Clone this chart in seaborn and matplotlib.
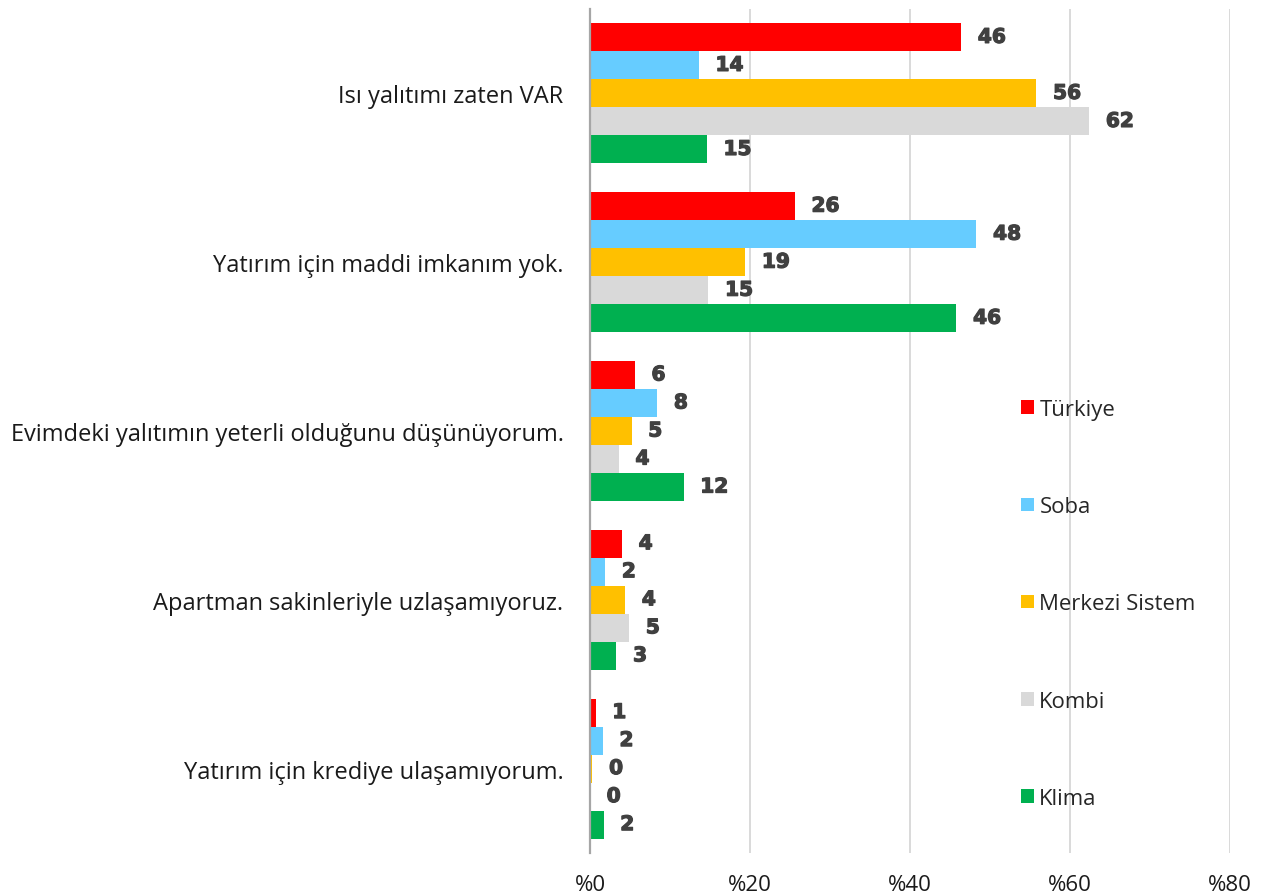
import matplotlib
matplotlib.use("Agg")
import matplotlib.pyplot as plt
import matplotlib.patheffects as pe
from matplotlib.patches import Patch
from matplotlib.ticker import FixedLocator
import seaborn as sns
import pandas as pd

# Reasons for not insulating, by heating type (%)
categories = [
    "Isı yalıtımı zaten VAR",
    "Yatırım için maddi imkanım yok.",
    "Evimdeki yalıtımın yeterli olduğunu düşünüyorum.",
    "Apartman sakinleriyle uzlaşamıyoruz.",
    "Yatırım için krediye ulaşamıyorum.",
]
series = ["Türkiye", "Soba", "Merkezi Sistem", "Kombi", "Klima"]
turkiye = [46.4, 25.6, 5.6, 4.0, 0.7]
soba = [13.6, 48.3, 8.4, 1.9, 1.6]
merkezi = [55.8, 19.4, 5.2, 4.4, 0.3]
kombi = [62.4, 14.8, 3.6, 4.9, 0.0]
klima = [14.6, 45.8, 11.7, 3.3, 1.7]
x_ticks = [0, 20, 40, 60, 80]
x_tick_labels = ["%0", "%20", "%40", "%60", "%80"]

colors = ["#FF0000", "#66CCFF", "#FFC000", "#D9D9D9", "#00B050"]

rows = []
for name, vals in zip(series, [turkiye, soba, merkezi, kombi, klima]):
    for cat, v in zip(categories, vals):
        rows.append({"category": cat, "series": name, "value": v})
df = pd.DataFrame(rows)

sns.set_style("white")
plt.rcParams["font.family"] = ["Open Sans", "DejaVu Sans"]

fig = plt.figure(figsize=(12.71, 8.95), dpi=100)
ax = fig.add_axes([590 / 1271, 41 / 895, 640 / 1271, 844 / 895])

sns.barplot(
    data=df, y="category", x="value", hue="series",
    order=categories, hue_order=series, palette=colors,
    orient="h", width=0.83, saturation=1, errorbar=None,
    linewidth=0, legend=False, ax=ax,
)

# heavy value labels at the end of each bar
for cont in ax.containers:
    labels = ax.bar_label(cont, fmt="%.0f", padding=12, fontsize=14.5,
                          fontweight="bold", color="#404040",
                          family=["DejaVu Sans"])
    for t in labels:
        t.set_path_effects([pe.withStroke(linewidth=0.9, foreground="#404040")])

ax.set_xlim(0, 80)
ax.set_ylim(len(categories) - 0.5, -0.5)
ax.set_xticks(x_ticks)
ax.set_xticklabels(x_tick_labels, fontsize=16, color="#1a1a1a")
ax.tick_params(axis="x", length=0, pad=15)
ax.tick_params(axis="y", which="major", length=0, pad=19,
               labelsize=17, labelcolor="#1a1a1a")
ax.yaxis.set_minor_locator(FixedLocator([i - 0.5 for i in range(len(categories) + 1)]))
ax.tick_params(axis="y", which="minor", length=5.5, width=1.5, color="#A6A6A6")
ax.set_xlabel("")
ax.set_ylabel("")

ax.grid(axis="x", color="#D9D9D9", linewidth=1.4)
ax.grid(axis="y", visible=False)
ax.set_axisbelow(True)
for side in ["top", "right", "bottom"]:
    ax.spines[side].set_visible(False)
ax.spines["left"].set_color("#A6A6A6")
ax.spines["left"].set_linewidth(1.6)

handles = [Patch(facecolor=c, edgecolor="none") for c in colors]
fig.legend(
    handles, series, loc="upper left",
    bbox_to_anchor=(1021 / 1271, 1 - 400 / 895), bbox_transform=fig.transFigure,
    frameon=False, fontsize=15.9, handlelength=0.58, handleheight=0.58,
    handletextpad=0.25, labelspacing=3.45, borderpad=0, borderaxespad=0,
)

fig.savefig("out.png", dpi=100)
